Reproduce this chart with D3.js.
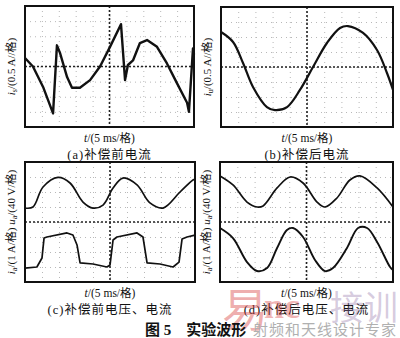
<!DOCTYPE html>
<html>
<head>
<meta charset="utf-8">
<script src="https://cdn.jsdelivr.net/npm/d3@7"></script>
<style>
  body { margin: 0; background: #fff; }
  svg { display: block; }
  text { font-family: "Liberation Serif", "Noto Sans CJK SC", serif; fill: #111; }
</style>
</head>
<body>
<div id="app"></div>
<script>
// time in divisions (5 ms/div), amplitude in divisions
var aT = [0, 0.47, 1.07, 1.66, 1.89, 2.07, 2.49, 2.78, 3.25, 3.85, 4.44, 5.03, 5.68, 5.92, 6.09, 6.39, 6.8, 7.22, 7.81, 8.4, 8.99, 9.59, 9.7, 9.94, 10];
var aI = [0.56, 0, -1.35, -3.1, 1.4, 0.9, -0.7, -1.4, -1.4, -0.9, 0, 1.3, 2.8, -0.9, 0.1, 0.4, 1.55, 1.75, 1.3, 0.2, -1.1, -2.4, -3.0, 1.2, 0.8];

var bT = [0, 0.7, 1.28, 1.86, 2.67, 3.14, 3.84, 4.59, 5.35, 6.16, 6.92, 7.38, 8.26, 9.07, 9.65, 10];
var bI = [2.33, 1.67, 0.27, -1.33, -2.67, -2.87, -2.67, -1.53, 0, 1.6, 2.6, 2.73, 2.27, 1.13, -0.4, -1.53];

var cUT = [0, 0.47, 1.06, 1.94, 2.65, 3.41, 4.0, 4.59, 5.18, 5.76, 6.59, 7.35, 8.12, 9.12, 9.88, 10];
var cU = [0.93, 1.0, 2.33, 2.97, 2.6, 1.33, 0.93, 1.13, 2.27, 2.93, 2.47, 1.27, 0.93, 2.0, 2.8, 2.85];
var cIT = [0, 0.7, 1.0, 1.12, 1.29, 2.47, 2.82, 3.06, 3.24, 4.0, 4.82, 5.0, 5.18, 5.41, 6.59, 6.94, 7.18, 7.94, 8.71, 9.06, 9.24, 9.53, 10];
var cI = [-3.07, -3.0, -2.4, -1.07, -1.0, -0.73, -0.87, -1.53, -2.73, -2.8, -3.0, -2.87, -1.2, -1.0, -0.73, -1.0, -2.73, -2.8, -3.0, -2.67, -1.13, -1.0, -0.87];

var dUT = [0, 0.75, 1.56, 2.14, 2.49, 3.3, 4.05, 4.8, 5.61, 6.07, 6.76, 7.51, 8.09, 9.08, 10];
var dU = [3.07, 2.47, 1.33, 1.0, 1.07, 2.27, 3.0, 2.6, 1.33, 1.0, 1.6, 2.8, 3.07, 2.27, 1.0];
var dIT = [0, 0.75, 1.56, 2.14, 2.72, 3.3, 3.87, 4.22, 4.8, 5.49, 6.07, 6.53, 7.34, 7.98, 8.5, 9.08, 9.83, 10];
var dI = [-0.4, -1.07, -2.67, -3.27, -3.07, -1.73, -0.53, -0.4, -1.0, -2.53, -3.27, -3.07, -1.73, -0.4, -0.4, -1.33, -3.0, -3.2];

var captions = ["(a)补偿前电流", "(b)补偿后电流", "(c)补偿前电压、电流", "(d)补偿后电压、电流"];
var figTitle = "图 5　实验波形";

var W = 400, H = 338;
var svg = d3.select("#app").append("svg").attr("width", W).attr("height", H);

function zip(t, v) { return t.map(function (d, i) { return [d, v[i]]; }); }

function panel(box, traces, ylab, caption) {
  var x = d3.scaleLinear().domain([0, 10]).range([box.l, box.r]);
  var y = d3.scaleLinear().domain([-4, 4]).range([box.b, box.t]);
  var g = svg.append("g");

  // faint grid
  g.append("g").attr("transform", "translate(0," + box.t + ")")
    .call(d3.axisBottom(x).ticks(10).tickSize(box.b - box.t).tickFormat(""))
    .call(function (s) { s.select(".domain").remove(); s.selectAll("line").attr("stroke", "#b8b8b8").attr("stroke-dasharray", "1,4"); });
  g.append("g").attr("transform", "translate(" + box.l + ",0)")
    .call(d3.axisRight(y).ticks(8).tickSize(box.r - box.l).tickFormat(""))
    .call(function (s) { s.select(".domain").remove(); s.selectAll("line").attr("stroke", "#b8b8b8").attr("stroke-dasharray", "1,4"); });

  // center lines
  g.append("line").attr("x1", x(5)).attr("x2", x(5)).attr("y1", box.t).attr("y2", box.b)
    .attr("stroke", "#222").attr("stroke-width", 1.6).attr("stroke-dasharray", "2,2");
  g.append("line").attr("x1", box.l).attr("x2", box.r).attr("y1", y(0)).attr("y2", y(0))
    .attr("stroke", "#222").attr("stroke-width", 1.6).attr("stroke-dasharray", "2,2");

  traces.forEach(function (tr) {
    g.append("path").datum(zip(tr.t, tr.v))
      .attr("fill", "none").attr("stroke", "#111").attr("stroke-width", tr.w)
      .attr("stroke-linejoin", "round")
      .attr("d", d3.line().x(function (d) { return x(d[0]); }).y(function (d) { return y(d[1]); }).curve(tr.curve));
  });

  g.append("rect").attr("x", box.l).attr("y", box.t).attr("width", box.r - box.l).attr("height", box.b - box.t)
    .attr("fill", "none").attr("stroke", "#111").attr("stroke-width", 2);

  var cx = (box.l + box.r) / 2;
  g.append("text").attr("x", cx).attr("y", box.b + 15).attr("text-anchor", "middle").attr("font-size", 11.5)
    .html('<tspan font-style="italic">t</tspan>/(5 ms/格)');
  g.append("text").attr("x", cx).attr("y", box.b + 32).attr("text-anchor", "middle").attr("font-size", 12.5)
    .attr("letter-spacing", 1).text(caption);

  g.append("text").attr("transform", "translate(" + (box.l - 10) + "," + ((box.t + box.b) / 2) + ") rotate(-90)")
    .attr("text-anchor", "middle").attr("font-size", 11).html(ylab);
}

var sub = function (v, s) { return '<tspan font-style="italic">' + v + '</tspan><tspan font-size="8" dy="2">' + s + '</tspan><tspan dy="-2">'; };

panel({ l: 25, t: 6, r: 194, b: 127 },
  [{ t: aT, v: aI, w: 2.4, curve: d3.curveLinear }],
  sub("i", "s") + "/(0.5 A//格)</tspan>", captions[0]);
panel({ l: 221, t: 7, r: 393, b: 127 },
  [{ t: bT, v: bI, w: 2.2, curve: d3.curveCatmullRom }],
  sub("i", "u") + "/(0.5 A//格)</tspan>", captions[1]);
panel({ l: 25, t: 162, r: 195, b: 282 },
  [{ t: cUT, v: cU, w: 1.7, curve: d3.curveCatmullRom }, { t: cIT, v: cI, w: 1.7, curve: d3.curveLinear }],
  sub("i", "a") + "/(1 A/格)  </tspan>" + sub("u", "a") + "/(40 V/格)</tspan>", captions[2]);
panel({ l: 220, t: 162, r: 393, b: 282 },
  [{ t: dUT, v: dU, w: 1.7, curve: d3.curveCatmullRom }, { t: dIT, v: dI, w: 1.9, curve: d3.curveCatmullRom }],
  sub("i", "a") + "/(1 A/格)  </tspan>" + sub("u", "a") + "/(40 V/格)</tspan>", captions[3]);

// watermark (overlaps caption d in the original too)
svg.append("text").attr("x", 222).attr("y", 326).attr("font-size", 46).attr("font-family", "Noto Sans CJK SC")
  .style("fill", "rgba(215,60,60,0.42)").text("易");
svg.append("text").attr("x", 264).attr("y", 318).attr("font-size", 36).attr("font-weight", "bold").attr("font-family", "DejaVu Sans")
  .style("fill", "rgba(215,60,60,0.38)").text("nc");
svg.append("text").attr("x", 330).attr("y", 320).attr("font-size", 34).attr("font-family", "Noto Sans CJK SC")
  .style("fill", "rgba(150,120,170,0.38)").text("接训");

svg.append("text").attr("x", 145).attr("y", 335).attr("font-size", 15).attr("font-weight", "bold")
  .attr("font-family", "Noto Sans CJK SC").text(figTitle);
svg.append("text").attr("x", 253).attr("y", 335).attr("font-size", 15).attr("font-family", "Noto Sans CJK SC")
  .style("fill", "#b0b0b0").attr("letter-spacing", 1).text("射频和天线设计专家");
</script>
</body>
</html>
